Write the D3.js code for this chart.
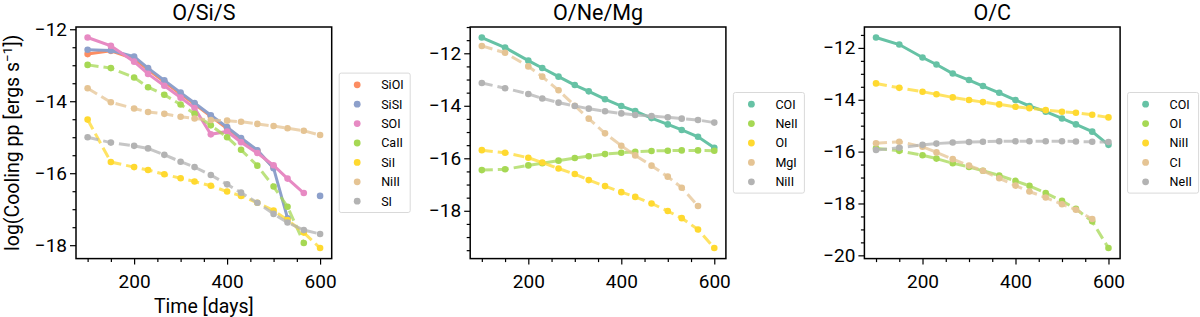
<!DOCTYPE html>
<html>
<head>
<meta charset="utf-8">
<script src="https://cdn.jsdelivr.net/npm/d3@7"></script>
<style>
  body { margin: 0; background: #fff; }
  svg text { font-family: Roboto, "DejaVu Sans", sans-serif; fill: #000; }
</style>
</head>
<body>
<div id="chart"></div>
<script>
var svgWidth = 1200;
var svgHeight = 317;

// epochs (days)
var days = [100, 150, 200, 230, 265, 300, 330, 365, 400, 430, 465, 500, 530, 565, 600];

// O/Si/S zone
var siOI = [-12.69, -12.6, -12.82, -13.12, -13.46, -13.8, -14.08, -14.42, -14.76, -15.05, -15.38, -15.84, null, null, null];
var siSI = [-12.57, -12.59, -12.76, -13.08, -13.42, -13.76, -14.05, -14.39, -14.72, -15.02, -15.36, -15.86, -17.25, null, -16.63];
var sOI = [-12.23, -12.46, -12.9, -13.24, -13.57, -13.9, -14.19, -14.92, -14.84, -15.14, -15.44, -15.78, -16.15, -16.55, null];
var caII = [-12.99, -13.08, -13.34, -13.61, -13.82, -14.09, -14.35, -14.67, -15.0, -15.35, -15.79, -16.37, -16.93, -17.94, null];
var siI = [-14.51, -15.69, -15.83, -15.91, -16.03, -16.14, -16.23, -16.35, -16.51, -16.63, -16.82, -17.04, -17.3, -17.65, -18.08];
var niII_1 = [-13.64, -14.03, -14.2, -14.3, -14.35, -14.43, -14.48, -14.52, -14.54, -14.57, -14.63, -14.69, -14.75, -14.82, -14.94];
var sI = [-15.0, -15.15, -15.24, -15.31, -15.49, -15.68, -15.83, -16.05, -16.31, -16.54, -16.82, -17.13, -17.37, -17.58, -17.69];

// O/Ne/Mg zone
var coI_2 = [-11.4, -11.78, -12.28, -12.56, -12.89, -13.21, -13.45, -13.75, -14.01, -14.2, -14.47, -14.71, -14.92, -15.18, -15.6];
var neII_2 = [-16.45, -16.42, -16.27, -16.19, -16.09, -15.99, -15.92, -15.84, -15.79, -15.75, -15.72, -15.71, -15.7, -15.7, -15.71];
var oI_2 = [-15.69, -15.79, -15.98, -16.16, -16.39, -16.6, -16.83, -17.06, -17.29, -17.47, -17.72, -18.01, -18.28, -18.71, -19.42];
var mgI = [-11.72, -11.98, -12.5, -12.89, -13.41, -14.0, -14.49, -15.05, -15.52, -15.89, -16.28, -16.7, -17.12, -17.82, null];
var niII_2 = [-13.13, -13.33, -13.55, -13.72, -13.88, -14.01, -14.11, -14.21, -14.29, -14.35, -14.39, -14.44, -14.49, -14.54, -14.64];

// O/C zone
var coI_3 = [-11.6, -11.87, -12.37, -12.64, -12.99, -13.24, -13.47, -13.73, -14.01, -14.24, -14.46, -14.72, -14.95, -15.23, -15.74];
var oI_3 = [-15.87, -15.97, -16.14, -16.27, -16.45, -16.59, -16.74, -16.92, -17.13, -17.32, -17.6, -17.9, -18.21, -18.69, -19.72];
var niII_3 = [-13.37, -13.54, -13.69, -13.79, -13.91, -14.01, -14.09, -14.18, -14.27, -14.33, -14.4, -14.46, -14.5, -14.58, -14.68];
var cI = [-15.68, -15.62, -15.81, -16.03, -16.29, -16.54, -16.74, -17.03, -17.31, -17.54, -17.77, -18.03, -18.24, -18.6, null];
var neII_3 = [-15.94, -15.85, -15.74, -15.69, -15.65, -15.63, -15.62, -15.6, -15.6, -15.6, -15.6, -15.6, -15.61, -15.62, -15.63];

var panelTitles = ["O/Si/S", "O/Ne/Mg", "O/C"];
var yTickValues = [[-12, -14, -16, -18], [-12, -14, -16, -18], [-12, -14, -16, -18, -20]];
var xTickValues = [200, 400, 600];

var set2 = {
    teal: "#66c2a5", orange: "#fc8d62", blue: "#8da0cb", pink: "#e78ac3",
    green: "#a6d854", yellow: "#ffd92f", tan: "#e5c494", grey: "#b3b3b3"
};

var panels = [
    [
        { name: "SiOI", values: siOI, color: set2.orange, dashed: false },
        { name: "SiSI", values: siSI, color: set2.blue, dashed: false },
        { name: "SOI", values: sOI, color: set2.pink, dashed: false },
        { name: "CaII", values: caII, color: set2.green, dashed: true },
        { name: "SiI", values: siI, color: set2.yellow, dashed: true },
        { name: "NiII", values: niII_1, color: set2.tan, dashed: true },
        { name: "SI", values: sI, color: set2.grey, dashed: true }
    ],
    [
        { name: "COI", values: coI_2, color: set2.teal, dashed: false },
        { name: "NeII", values: neII_2, color: set2.green, dashed: true },
        { name: "OI", values: oI_2, color: set2.yellow, dashed: true },
        { name: "MgI", values: mgI, color: set2.tan, dashed: true },
        { name: "NiII", values: niII_2, color: set2.grey, dashed: true }
    ],
    [
        { name: "COI", values: coI_3, color: set2.teal, dashed: false },
        { name: "OI", values: oI_3, color: set2.green, dashed: true },
        { name: "NiII", values: niII_3, color: set2.yellow, dashed: true },
        { name: "CI", values: cI, color: set2.tan, dashed: true },
        { name: "NeII", values: neII_3, color: set2.grey, dashed: true }
    ]
];

var panelLeft = [76, 470.2, 864.4];
var panelWidth = 255.7;
var plotTop = 27;
var plotBottom = 258.6;

var svg = d3.select("#chart")
    .append("svg")
    .attr("width", svgWidth)
    .attr("height", svgHeight);

panels.forEach(function (series, p) {
    var g = svg.append("g")
        .attr("transform", `translate(${panelLeft[p]}, 0)`);

    // matplotlib style 5% margins
    var xLinearScale = d3.scaleLinear()
        .domain([75, 625])
        .range([0, panelWidth]);

    var allY = [];
    series.forEach(s => s.values.forEach(v => { if (v !== null) allY.push(v); }));
    var yMin = d3.min(allY), yMax = d3.max(allY);
    var pad = (yMax - yMin) * 0.05;
    var yLinearScale = d3.scaleLinear()
        .domain([yMin - pad, yMax + pad])
        .range([plotBottom, plotTop]);

    var line = d3.line()
        .defined(d => d[1] !== null)
        .x(d => xLinearScale(d[0]))
        .y(d => yLinearScale(d[1]));

    var plot = g.append("g");
    series.forEach(function (s) {
        var pts = days.map((d, i) => [d, s.values[i]]);
        plot.append("path")
            .datum(pts)
            .attr("d", line)
            .attr("fill", "none")
            .attr("stroke", s.color)
            .attr("stroke-width", 3)
            .attr("stroke-opacity", s.dashed ? 0.75 : 1)
            .attr("stroke-dasharray", s.dashed ? "11,5" : null);

        plot.selectAll(null)
            .data(pts.filter(d => d[1] !== null))
            .enter()
            .append("circle")
            .attr("cx", d => xLinearScale(d[0]))
            .attr("cy", d => yLinearScale(d[1]))
            .attr("r", 3.3)
            .attr("fill", s.color);
    });

    // axes
    var bottomAxis = d3.axisBottom(xLinearScale)
        .tickValues(xTickValues)
        .tickSize(6)
        .tickPadding(10);
    var leftAxis = d3.axisLeft(yLinearScale)
        .tickValues(yTickValues[p])
        .tickSize(6)
        .tickPadding(3)
        .tickFormat(d => d3.format("")(d).replace("-", "\u2212"));

    var xMinor = d3.range(100, 601, 50).filter(v => xTickValues.indexOf(v) < 0);
    var yDom = yLinearScale.domain();
    var yMinor = d3.range(Math.ceil(yDom[0] * 2) / 2, yDom[1], 0.5).filter(v => v % 2 !== 0);

    g.append("g")
        .attr("transform", `translate(0, ${plotBottom})`)
        .call(bottomAxis);
    g.append("g")
        .attr("transform", `translate(0, ${plotBottom})`)
        .call(d3.axisBottom(xLinearScale).tickValues(xMinor).tickSize(3.5).tickFormat(""));
    g.append("g").call(leftAxis);
    g.append("g")
        .call(d3.axisLeft(yLinearScale).tickValues(yMinor).tickSize(3.5).tickFormat(""));

    g.selectAll(".tick line").attr("stroke", "#000").attr("stroke-width", 1.2);
    g.selectAll(".domain").remove();
    g.selectAll(".tick text").attr("font-size", "19px").attr("font-family", "Roboto, sans-serif");

    // frame
    g.append("rect")
        .attr("x", 0)
        .attr("y", plotTop)
        .attr("width", panelWidth)
        .attr("height", plotBottom - plotTop)
        .attr("fill", "none")
        .attr("stroke", "#000")
        .attr("stroke-width", 1.5);

    // title
    g.append("text")
        .attr("x", panelWidth / 2)
        .attr("y", 19.5)
        .attr("text-anchor", "middle")
        .attr("font-size", "21.5px")
        .text(panelTitles[p]);

    // legend
    var rowH = 19.4;
    var legH = rowH * (series.length - 1) + 23;
    var legY = (plotTop + plotBottom) / 2 - legH / 2;
    var legend = g.append("g")
        .attr("transform", `translate(${panelWidth + 7.5}, ${legY})`);
    legend.append("rect")
        .attr("width", 71)
        .attr("height", legH)
        .attr("rx", 2)
        .attr("fill", "#fff")
        .attr("fill-opacity", 0.8)
        .attr("stroke", "#d9d9d9")
        .attr("stroke-width", 1);
    series.forEach(function (s, i) {
        legend.append("circle")
            .attr("cx", 18)
            .attr("cy", 11.7 + i * rowH)
            .attr("r", 3.4)
            .attr("fill", s.color);
        legend.append("text")
            .attr("x", 42)
            .attr("y", 11.7 + i * rowH)
            .attr("dy", "0.35em")
            .attr("font-size", "12.5px")
            .text(s.name);
    });

    if (p === 0) {
        g.append("text")
            .attr("x", panelWidth / 2)
            .attr("y", 313)
            .attr("text-anchor", "middle")
            .attr("font-size", "19.5px")
            .text("Time [days]");

        var yl = g.append("text")
            .attr("transform", `translate(${19 - panelLeft[0]}, ${(plotTop + plotBottom) / 2}) rotate(-90)`)
            .attr("text-anchor", "middle")
            .attr("font-size", "19.5px");
        yl.append("tspan").text("log(Cooling pp [ergs s");
        yl.append("tspan").attr("dy", -7).attr("font-size", "13.5px").text("\u22121");
        yl.append("tspan").attr("dy", 7).text("])");
    }
});
</script>
</body>
</html>
